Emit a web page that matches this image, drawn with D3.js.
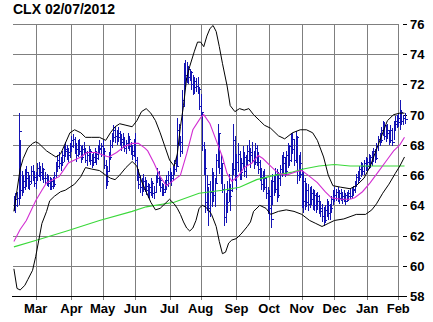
<!DOCTYPE html>
<html>
<head>
<meta charset="utf-8">
<script src="https://cdn.jsdelivr.net/npm/d3@7"></script>
<style>
body { margin: 0; background: #fff; }
svg { display: block; }
text { font-family: "Liberation Sans", Arial, sans-serif; font-weight: bold; fill: #000; }
</style>
</head>
<body>
<svg width="433" height="322"></svg>
<script>
var title = "CLX 02/07/2012";
var firstDay = "2011-02-08", lastDay = "2012-02-07";
var holidays = ["2011-02-21", "2011-04-22", "2011-05-30", "2011-07-04", "2011-09-05",
  "2011-11-24", "2011-12-26", "2012-01-02", "2012-01-16"];
var monthNames = ["Jan", "Feb", "Mar", "Apr", "May", "Jun", "Jul", "Aug", "Sep", "Oct", "Nov", "Dec"];
var priceTicks = [58, 60, 62, 64, 66, 68, 70, 72, 74, 76];

// daily bars, one value per trading day
var highs = [
  64.6, 64.8, 64.9, 70.1, 68.3, 66.3, 66.0, 66.4, 66.6, 66.2,
  66.0, 66.6, 66.7, 66.3, 66.2, 66.8, 66.9, 66.6, 66.8, 66.5,
  66.2, 66.1, 66.0, 65.9, 65.8, 65.9, 66.2, 66.9, 67.3, 67.5,
  67.2, 67.6, 67.9, 68.2, 68.0, 67.8, 68.1, 68.6, 68.7, 68.5,
  68.1, 68.3, 68.4, 67.9, 68.0, 68.2, 67.8, 67.6, 67.9, 67.7,
  67.4, 67.5, 67.8, 67.6, 68.0, 68.3, 68.1, 68.3, 67.8, 67.0,
  66.6, 67.5, 68.3, 68.8, 69.3, 69.2, 69.0, 69.2, 68.9, 68.7,
  68.8, 68.5, 68.3, 68.8, 68.6, 68.2, 68.0, 68.4, 68.8, 67.2,
  66.4, 66.0, 65.8, 66.1, 65.9, 65.7, 65.5, 65.4, 65.8, 65.6,
  65.3, 66.0, 66.5, 66.3, 65.9, 65.5, 65.4, 65.7, 66.0, 66.3,
  66.5, 66.2, 66.6, 67.0, 67.2, 69.8, 69.4, 68.6, 71.6, 73.4,
  73.6, 73.5, 73.2, 73.0, 72.9, 72.6, 72.5, 72.4, 72.5, 71.8,
  71.4, 70.1, 68.2, 67.7, 66.0, 65.2, 65.6, 66.5, 66.2, 65.8,
  67.4, 69.4, 68.8, 67.3, 66.8, 65.4, 64.8, 65.6, 66.1, 65.4,
  66.8, 69.4, 68.6, 67.4, 68.1, 67.6, 67.1, 67.9, 67.5, 67.3,
  68.0, 68.3, 67.8, 68.2, 67.6, 68.1, 68.0, 67.5, 67.0, 66.5,
  66.3, 66.4, 65.9, 65.2, 65.0, 65.7, 66.1, 66.0, 66.5, 66.4,
  66.2, 66.7, 67.3, 67.5, 67.2, 67.6, 68.1, 68.0, 68.7, 68.8,
  68.4, 68.9, 68.6, 67.3, 67.5, 66.5, 66.3, 65.8, 65.5, 65.4,
  65.2, 65.3, 65.1, 65.0, 64.8, 64.9, 64.7, 64.3, 64.1, 63.9,
  64.0, 64.4, 64.3, 64.1, 64.6, 65.0, 65.2, 65.1, 65.2, 65.0,
  65.1, 64.9, 65.0, 64.8, 64.9, 65.0, 65.1, 65.2, 65.3, 65.6,
  66.1, 66.3, 66.6, 66.9, 66.8, 67.0, 67.2, 67.1, 67.4, 67.3,
  67.6, 67.8, 67.7, 68.1, 68.6, 68.8, 69.2, 69.6, 69.5, 69.3,
  69.4, 69.0, 69.3, 69.1, 69.6, 69.9, 70.0, 70.1, 71.0, 70.3,
  70.0, 70.1
];
var lows = [
  63.6, 63.5, 63.9, 64.0, 64.4, 64.6, 64.8, 65.0, 65.2, 65.1,
  65.0, 65.4, 65.6, 65.2, 65.1, 65.6, 65.9, 65.6, 65.7, 65.5,
  65.4, 65.3, 65.2, 65.0, 65.0, 65.1, 65.2, 65.8, 66.2, 66.4,
  66.3, 66.6, 66.9, 67.2, 67.0, 66.9, 67.1, 67.5, 67.8, 67.4,
  66.9, 67.2, 67.3, 66.8, 67.0, 67.3, 66.8, 66.6, 66.9, 66.7,
  66.5, 66.6, 66.8, 66.7, 67.0, 67.4, 67.2, 67.3, 66.4, 65.1,
  65.3, 66.2, 67.0, 67.8, 68.2, 68.1, 68.0, 68.2, 67.9, 67.6,
  67.8, 67.5, 67.4, 67.7, 67.6, 67.3, 67.0, 67.2, 66.8, 65.6,
  65.1, 64.8, 64.6, 64.9, 64.9, 64.7, 64.5, 64.4, 64.6, 64.5,
  64.4, 64.9, 65.5, 65.3, 64.9, 64.6, 64.6, 64.8, 65.0, 65.2,
  65.5, 65.3, 65.6, 66.0, 66.2, 66.6, 67.9, 67.2, 67.4, 70.5,
  71.8, 72.1, 72.0, 72.2, 71.6, 71.3, 71.4, 71.5, 71.4, 70.3,
  69.9, 67.6, 66.0, 63.5, 63.6, 62.6, 63.2, 63.9, 64.2, 63.9,
  65.4, 66.5, 66.1, 65.4, 64.8, 62.6, 62.8, 63.5, 64.2, 63.6,
  64.9, 66.0, 65.6, 65.0, 66.2, 65.7, 65.7, 66.4, 65.9, 65.8,
  66.6, 66.9, 66.5, 66.8, 66.4, 66.7, 66.6, 66.1, 65.6, 65.0,
  64.9, 65.0, 64.4, 63.4, 63.0, 62.5, 64.0, 64.6, 64.8, 64.2,
  64.5, 65.3, 65.9, 66.1, 65.9, 66.0, 66.5, 66.6, 66.9, 67.4,
  66.6, 66.8, 65.4, 65.6, 65.8, 63.8, 63.5, 63.7, 63.9, 63.6,
  63.8, 64.0, 63.7, 63.6, 63.5, 63.7, 63.4, 63.2, 62.9, 62.6,
  62.8, 63.2, 63.0, 63.0, 63.5, 64.0, 64.2, 64.3, 64.2, 64.1,
  64.3, 64.1, 64.2, 64.0, 64.2, 64.3, 64.4, 64.4, 64.6, 64.8,
  65.2, 65.4, 65.6, 65.9, 66.0, 66.0, 66.3, 66.2, 66.4, 66.5,
  66.6, 66.9, 66.8, 67.0, 67.6, 67.9, 68.1, 68.6, 68.3, 68.2,
  68.4, 68.0, 68.1, 67.9, 68.3, 68.9, 69.1, 69.2, 69.0, 69.3,
  69.3, 69.4
];
var closes = [
  64.0, 64.4, 64.5, 68.9, 65.0, 65.2, 65.6, 65.8, 66.2, 65.4,
  65.6, 66.3, 65.9, 65.5, 66.0, 66.5, 66.2, 66.0, 66.4, 65.8,
  65.8, 65.6, 65.5, 65.3, 65.6, 65.4, 66.0, 66.6, 67.0, 66.8,
  66.9, 67.3, 67.6, 67.7, 67.3, 67.5, 67.9, 68.3, 68.4, 67.7,
  67.3, 68.0, 67.6, 67.2, 67.7, 67.5, 67.0, 67.3, 67.6, 67.0,
  66.9, 67.2, 67.1, 67.4, 67.8, 67.7, 67.9, 67.6, 66.7, 65.6,
  66.3, 67.2, 68.0, 68.5, 69.0, 68.6, 68.8, 68.5, 68.2, 68.4,
  68.0, 67.8, 68.1, 68.4, 67.9, 67.6, 67.3, 68.1, 67.0, 65.9,
  65.4, 65.2, 65.1, 65.6, 65.3, 65.0, 64.9, 65.2, 65.5, 64.8,
  64.9, 65.8, 66.2, 65.7, 65.2, 64.9, 65.1, 65.4, 65.7, 66.0,
  65.8, 66.0, 66.4, 66.8, 66.6, 69.0, 68.2, 67.6, 71.0, 72.6,
  72.4, 73.0, 72.5, 72.8, 72.0, 71.8, 72.2, 71.9, 71.7, 70.6,
  70.2, 68.0, 66.5, 64.2, 65.4, 63.8, 64.9, 66.0, 64.7, 65.5,
  67.0, 68.8, 66.5, 66.8, 65.1, 63.2, 64.2, 65.0, 64.6, 65.0,
  66.4, 68.3, 66.0, 66.9, 67.4, 66.2, 66.8, 67.2, 66.3, 67.0,
  67.6, 67.3, 67.5, 67.0, 66.9, 67.8, 66.9, 66.4, 65.9, 65.4,
  65.8, 65.2, 64.8, 63.8, 64.6, 63.1, 65.6, 65.1, 66.1, 64.7,
  65.8, 66.4, 66.8, 67.2, 66.3, 67.3, 67.9, 67.0, 68.4, 67.7,
  67.0, 68.5, 66.0, 66.8, 66.1, 64.3, 65.6, 64.2, 65.0, 64.1,
  64.8, 64.4, 64.7, 64.0, 64.3, 64.6, 63.8, 63.6, 63.3, 63.0,
  63.7, 64.0, 63.5, 63.8, 64.4, 64.7, 64.5, 64.9, 64.5, 64.8,
  64.6, 64.4, 64.7, 64.3, 64.6, 64.8, 64.6, 65.0, 65.1, 65.4,
  65.9, 65.8, 66.4, 66.6, 66.3, 66.8, 66.6, 66.9, 67.2, 66.8,
  67.4, 67.6, 67.1, 67.9, 68.4, 68.3, 69.0, 69.3, 68.6, 69.0,
  68.8, 68.3, 69.0, 68.2, 69.4, 69.6, 69.8, 69.5, 70.2, 69.6,
  69.8, 69.7
];

// indicator lines as [trading day, value]
var upperBand = [[0,63.6],[2,65.0],[4,66.4],[6,67.1],[9,67.8],[12,68.1],[14,68.2],[16,68.1],[18,67.9],
  [21,67.6],[24,67.4],[27,67.2],[30,67.4],[33,68.1],[36,68.8],[39,69.0],[43,68.8],[46,68.5],[50,68.5],
  [55,68.5],[59,68.3],[62,68.8],[65,69.2],[68,69.4],[72,69.3],[76,69.2],[79,69.6],[82,70.2],[85,70.4],
  [88,70.1],[91,69.6],[94,68.8],[97,67.9],[100,67.0],[103,66.6],[105,67.4],[107,69.2],[109,70.6],
  [111,72.4],[113,73.2],[116,74.2],[118,74.8],[120,74.8],[122,74.5],[124,75.2],[126,75.7],[128,75.9],
  [130,75.5],[132,74.5],[134,73.4],[137,71.9],[139,70.6],[142,70.2],[145,70.4],[148,70.3],[151,70.4],
  [154,70.0],[158,69.6],[161,69.3],[165,69.1],[170,68.6],[174,68.4],[179,68.8],[184,69.0],[188,69.0],
  [192,68.8],[195,68.3],[199,67.2],[202,66.0],[205,65.3],[210,65.2],[216,65.1],[220,65.3],[225,65.8],
  [229,66.6],[233,67.7],[237,68.8],[240,69.6],[244,70.0],[248,70.1],[251,70.1]];
var lowerBand = [[0,59.8],[2,58.5],[4,58.4],[7,58.7],[9,59.1],[12,59.7],[14,60.6],[16,61.7],[18,62.8],
  [21,63.6],[23,64.3],[26,64.6],[30,64.9],[33,65.0],[36,65.2],[39,65.4],[43,65.9],[46,66.5],[50,66.4],
  [55,66.3],[59,66.0],[62,65.8],[65,65.7],[68,66.0],[72,66.5],[76,66.9],[79,66.6],[82,65.6],[85,64.9],
  [88,64.2],[91,63.7],[94,63.8],[97,64.1],[100,64.4],[103,64.1],[105,63.8],[107,63.4],[109,62.9],
  [111,62.5],[113,62.3],[115,62.5],[117,63.0],[119,63.8],[121,64.0],[123,63.9],[125,63.7],[127,63.4],
  [130,62.6],[132,61.6],[134,60.8],[136,60.9],[138,61.5],[140,61.7],[143,61.8],[146,62.1],[150,62.6],
  [152,62.9],[154,63.6],[158,64.0],[162,63.8],[165,63.4],[170,63.6],[175,63.7],[180,63.6],[185,63.4],
  [190,63.0],[194,62.8],[198,62.6],[202,62.8],[206,63.0],[212,63.1],[220,63.4],[226,63.4],[230,63.7],
  [233,64.1],[237,64.8],[241,65.4],[245,66.1],[248,66.6],[251,67.2]];
var ma20 = [[0,61.6],[4,62.4],[8,63.0],[14,64.3],[18,65.0],[21,65.5],[25,65.7],[29,65.9],[31,66.2],
  [35,66.8],[43,67.2],[47,67.5],[53,67.5],[58,67.3],[61,67.2],[66,67.5],[71,67.9],[76,68.1],[80,68.1],
  [84,67.8],[86,67.6],[90,66.8],[94,65.9],[98,65.3],[102,65.6],[107,66.0],[111,67.4],[115,69.0],
  [120,69.8],[122,70.0],[126,69.4],[130,68.3],[134,67.2],[137,66.1],[140,65.6],[144,65.9],[148,66.5],
  [153,66.8],[157,67.3],[160,67.1],[165,66.6],[170,66.1],[175,66.0],[181,66.2],[185,66.3],[189,66.0],
  [195,65.5],[200,64.9],[204,64.5],[210,64.4],[216,64.4],[219,64.5],[224,64.9],[229,65.5],[234,66.2],
  [239,66.9],[244,67.6],[248,68.0],[251,68.5]];
var ma200 = [[0,61.25],[15,61.7],[34,62.3],[55,63.0],[76,63.6],[85,63.9],[103,64.2],[119,64.8],
  [134,65.0],[145,65.2],[156,65.7],[168,66.0],[179,66.2],[186,66.4],[196,66.6],[206,66.7],[216,66.6],
  [229,66.6],[240,66.6],[251,66.6]];

var svg = d3.select("svg");

var holidaySet = new Set(holidays);
var fmt = d3.timeFormat("%Y-%m-%d");
var days = d3.timeDay.range(d3.timeParse("%Y-%m-%d")(firstDay), d3.timeDay.offset(d3.timeParse("%Y-%m-%d")(lastDay), 1))
  .filter(function(d) { return d.getDay() !== 0 && d.getDay() !== 6 && !holidaySet.has(fmt(d)); });

var monthStarts = [];
days.forEach(function(d, i) {
  if (i > 0 && d.getMonth() !== days[i - 1].getMonth()) monthStarts.push({i: i, label: monthNames[d.getMonth()]});
});

var x = d3.scaleLinear().domain([0, days.length - 1]).range([13.9, 404.5]);
var y = d3.scaleLinear().domain([58, 76]).range([296, 24]);
var gridRight = x(monthStarts[monthStarts.length - 1].i);

var grid = svg.append("g").attr("shape-rendering", "crispEdges");

grid.selectAll(".hgrid")
  .data(priceTicks.slice(1))
  .enter().append("line")
  .attr("x1", 13).attr("x2", Math.round(gridRight) + 0.5)
  .attr("y1", function(d) { return Math.round(y(d)) + 0.5; })
  .attr("y2", function(d) { return Math.round(y(d)) + 0.5; })
  .attr("stroke", "#7f7f7f");

grid.selectAll(".vgrid")
  .data(monthStarts)
  .enter().append("line")
  .attr("x1", function(d) { return Math.round(x(d.i)) + 0.5; })
  .attr("x2", function(d) { return Math.round(x(d.i)) + 0.5; })
  .attr("y1", Math.round(y(76)) + 0.5)
  .attr("y2", Math.round(y(58)) + 4)
  .attr("stroke", "#7f7f7f");

grid.append("line")
  .attr("x1", 12).attr("x2", 406)
  .attr("y1", Math.round(y(58)) + 0.5).attr("y2", Math.round(y(58)) + 0.5)
  .attr("stroke", "#000");

grid.selectAll(".ytick")
  .data(priceTicks)
  .enter().append("line")
  .attr("x1", 403).attr("x2", 407)
  .attr("y1", function(d) { return Math.round(y(d)) + 0.5; })
  .attr("y2", function(d) { return Math.round(y(d)) + 0.5; })
  .attr("stroke", "#000");

svg.selectAll(".ylabel")
  .data(priceTicks)
  .enter().append("text")
  .attr("x", 410)
  .attr("y", function(d) { return y(d) + 5; })
  .attr("font-size", 13)
  .text(function(d) { return d; });

svg.selectAll(".xlabel")
  .data(monthStarts)
  .enter().append("text")
  .attr("x", function(d) { return x(d.i); })
  .attr("y", 313)
  .attr("text-anchor", "middle")
  .attr("font-size", 13)
  .text(function(d) { return d.label; });

svg.append("text")
  .attr("x", 13).attr("y", 14)
  .attr("font-size", 14)
  .text(title);

// price bars
var bars = svg.append("g").attr("shape-rendering", "crispEdges").attr("stroke", "#1414b4");
bars.selectAll(".hl")
  .data(highs)
  .enter().append("line")
  .attr("x1", function(d, i) { return Math.round(x(i)) + 0.5; })
  .attr("x2", function(d, i) { return Math.round(x(i)) + 0.5; })
  .attr("y1", function(d) { return y(d); })
  .attr("y2", function(d, i) { return y(lows[i]); });
bars.selectAll(".cl")
  .data(closes)
  .enter().append("line")
  .attr("x1", function(d, i) { return Math.round(x(i)) + 1; })
  .attr("x2", function(d, i) { return Math.round(x(i)) + 3; })
  .attr("y1", function(d) { return Math.round(y(d)) + 0.5; })
  .attr("y2", function(d) { return Math.round(y(d)) + 0.5; });

var line = d3.line()
  .x(function(d) { return x(d[0]); })
  .y(function(d) { return y(d[1]); });

svg.append("path").datum(ma200).attr("d", line).attr("fill", "none").attr("stroke", "#3ad83a").attr("stroke-width", 1.1);
svg.append("path").datum(ma20).attr("d", line).attr("fill", "none").attr("stroke", "#d22ed2").attr("stroke-width", 1.1);
svg.append("path").datum(upperBand).attr("d", line).attr("fill", "none").attr("stroke", "#000").attr("stroke-width", 1);
svg.append("path").datum(lowerBand).attr("d", line).attr("fill", "none").attr("stroke", "#000").attr("stroke-width", 1);
</script>
</body>
</html>
